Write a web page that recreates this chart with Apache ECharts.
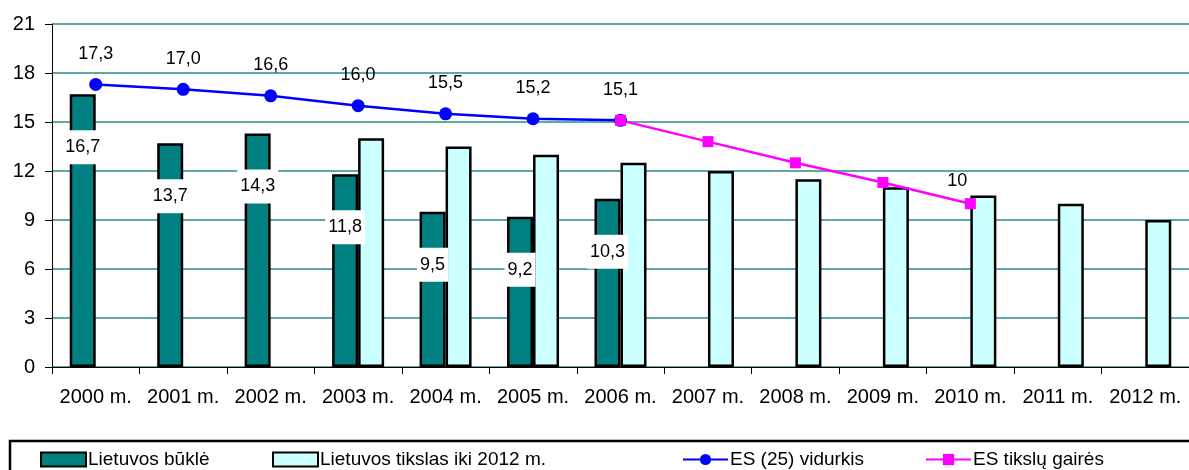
<!DOCTYPE html>
<html>
<head>
<meta charset="utf-8">
<script src="https://cdn.jsdelivr.net/npm/echarts@6/dist/echarts.min.js"></script>
<style>
  html, body { margin: 0; padding: 0; background: #fff; }
  #chart { width: 1189px; height: 470px; }
</style>
</head>
<body>
<div id="chart"></div>
<script>
// metai
const years = ['2000 m.', '2001 m.', '2002 m.', '2003 m.', '2004 m.', '2005 m.', '2006 m.',
  '2007 m.', '2008 m.', '2009 m.', '2010 m.', '2011 m.', '2012 m.'];
// Lietuvos būklė
const lietuvosBukle = [16.7, 13.7, 14.3, 11.8, 9.5, 9.2, 10.3, null, null, null, null, null, null];
// Lietuvos tikslas iki 2012 m.
const lietuvosTikslas = [null, null, null, 14.0, 13.5, 13.0, 12.5, 12.0, 11.5, 11.0, 10.5, 10.0, 9.0];
// ES (25) vidurkis
const esVidurkis = [17.3, 17.0, 16.6, 16.0, 15.5, 15.2, 15.1, null, null, null, null, null, null];
// ES tikslų gairės
const esGaires = [null, null, null, null, null, null, 15.1, 13.8, 12.5, 11.3, 10.0, null, null];

const font = 'Arial, "Liberation Sans", sans-serif';
const fmt = v => String(v).replace('.', ',');

const chart = echarts.init(document.getElementById('chart'));

const legendBase = {
  top: 450,
  itemWidth: 45,
  itemHeight: 14,
  itemGap: 0,
  padding: 0,
  textStyle: { fontSize: 19, fontFamily: font, color: '#000', padding: [2, 0, 0, -3] }
};

const option = {
  animation: false,
  backgroundColor: '#fff',
  grid: { left: 52, right: 0, top: 24, bottom: 103 },
  graphic: [{
    type: 'rect',
    shape: { x: 10, y: 441, width: 1190, height: 40 },
    style: { fill: 'none', stroke: '#000', lineWidth: 2.5 }
  }],
  legend: [
    Object.assign({}, legendBase, { left: 40, icon: 'rect', data: ['Lietuvos būklė'] }),
    Object.assign({}, legendBase, { left: 272, icon: 'rect', data: ['Lietuvos tikslas iki 2012 m.'] }),
    Object.assign({}, legendBase, { left: 682, data: ['ES (25) vidurkis'] }),
    Object.assign({}, legendBase, { left: 925, data: ['ES tikslų gairės'] })
  ],
  xAxis: {
    type: 'category',
    data: years,
    boundaryGap: true,
    axisLine: { lineStyle: { color: '#000', width: 1 } },
    axisTick: { show: true, interval: 0, length: 7, lineStyle: { color: '#000' } },
    axisLabel: { interval: 0, hideOverlap: false, fontSize: 20, fontFamily: font, color: '#000', margin: 20 }
  },
  yAxis: {
    type: 'value',
    min: 0,
    max: 21,
    interval: 3,
    axisLine: { show: true, lineStyle: { color: '#000', width: 1 } },
    axisTick: { show: true, length: 7, lineStyle: { color: '#000' } },
    axisLabel: { fontSize: 20, fontFamily: font, color: '#000', margin: 17 },
    splitLine: { lineStyle: { color: '#5fa8a8', width: 2 } }
  },
  series: [
    {
      name: 'Lietuvos būklė',
      type: 'bar',
      data: lietuvosBukle,
      barWidth: 26,
      barGap: '0%',
      itemStyle: { color: '#008080', borderColor: '#000', borderWidth: 2.5 },
      label: {
        show: true,
        position: 'insideTop',
        distance: 36,
        formatter: p => fmt(p.value),
        fontSize: 18,
        fontFamily: font,
        color: '#000',
        backgroundColor: '#fff',
        padding: [8, 3]
      }
    },
    {
      name: 'Lietuvos tikslas iki 2012 m.',
      type: 'bar',
      data: lietuvosTikslas,
      barWidth: 26,
      barGap: '0%',
      itemStyle: { color: '#ccffff', borderColor: '#000', borderWidth: 2.5 }
    },
    {
      name: 'ES (25) vidurkis',
      type: 'line',
      data: esVidurkis,
      symbol: 'circle',
      symbolSize: 13,
      lineStyle: { color: '#0000ff', width: 2.5 },
      itemStyle: { color: '#0000ff' },
      label: {
        show: true,
        position: 'top',
        distance: 15,
        formatter: p => p.value.toFixed(1).replace('.', ','),
        fontSize: 18,
        fontFamily: font,
        color: '#000'
      }
    },
    {
      name: 'ES tikslų gairės',
      type: 'line',
      data: esGaires,
      symbol: 'rect',
      symbolSize: 11,
      lineStyle: { color: '#ff00ff', width: 2.5 },
      itemStyle: { color: '#ff00ff' },
      label: {
        show: true,
        position: 'top',
        distance: 8,
        offset: [-13, 0],
        formatter: p => (p.dataIndex === esGaires.length - 3 ? fmt(p.value) : ''),
        fontSize: 18,
        fontFamily: font,
        color: '#000'
      }
    }
  ]
};

chart.setOption(option);
</script>
</body>
</html>
